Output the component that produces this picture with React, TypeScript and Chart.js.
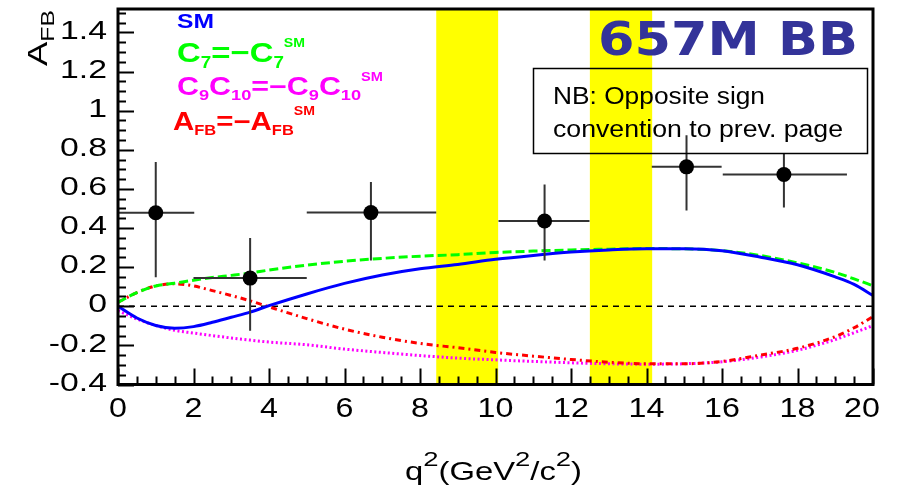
import React, { useEffect, useRef } from "react";
import { Chart, registerables } from "chart.js";

Chart.register(...registerables);

// q^2 sampling of the theory curves (GeV^2/c^2)
const Q2 = [0, 0.5, 1, 1.5, 2, 2.5, 3, 3.5, 4, 5, 6, 7, 8, 9, 10, 11, 12, 13, 14, 15, 16, 17, 18, 19, 19.5, 20];

// Theory predictions of A_FB
const SM = [0, -0.06, -0.098, -0.112, -0.104, -0.082, -0.056, -0.03, 0.003, 0.063, 0.117, 0.16, 0.192, 0.214, 0.24, 0.26, 0.277, 0.288, 0.294, 0.294, 0.284, 0.252, 0.212, 0.15, 0.112, 0.055];
const C7_FLIP = [0.02, 0.07, 0.104, 0.118, 0.133, 0.147, 0.158, 0.17, 0.185, 0.21, 0.23, 0.245, 0.256, 0.264, 0.275, 0.282, 0.288, 0.292, 0.295, 0.294, 0.284, 0.26, 0.222, 0.173, 0.14, 0.105];
const C9C10_FLIP = [-0.022, -0.065, -0.098, -0.123, -0.137, -0.15, -0.162, -0.173, -0.183, -0.197, -0.219, -0.236, -0.252, -0.265, -0.274, -0.282, -0.289, -0.294, -0.296, -0.294, -0.284, -0.26, -0.225, -0.17, -0.135, -0.099];
const AFB_FLIP = [0.02, 0.07, 0.104, 0.115, 0.104, 0.08, 0.055, 0.028, -0.003, -0.063, -0.117, -0.158, -0.19, -0.212, -0.236, -0.255, -0.272, -0.286, -0.294, -0.294, -0.282, -0.25, -0.215, -0.155, -0.11, -0.053];

// Measured A_FB per q^2 bin
const BIN_CENTER = [1.0, 3.5, 6.7, 11.3, 15.06, 17.64];
const AFB_MEAS = [0.478, 0.144, 0.479, 0.436, 0.713, 0.674];
const BIN_LO = [0.0, 2.0, 5.0, 10.08, 14.14, 16.02];
const BIN_HI = [2.02, 5.0, 8.43, 12.49, 15.99, 19.31];
const ERR_LO = [0.149, -0.125, 0.234, 0.234, 0.49, 0.505];
const ERR_HI = [0.738, 0.349, 0.636, 0.622, 0.875, 0.78];

// Charmonium veto windows
const VETO_LO = [8.43, 12.5];
const VETO_HI = [10.07, 14.15];

// Axis ticks
const X_MAJOR = [0, 2, 4, 6, 8, 10, 12, 14, 16, 18, 20];
const Y_MAJOR = [-0.4, -0.2, 0, 0.2, 0.4, 0.6, 0.8, 1, 1.2, 1.4];
const Y_LABELS = ["-0.4", "-0.2", "0", "0.2", "0.4", "0.6", "0.8", "1", "1.2", "1.4"];

const SANS = '"Liberation Sans", Arial, sans-serif';

type Seg = { t: string; size: number; dy?: number; bold?: boolean };

function drawStretched(ctx: CanvasRenderingContext2D, text: string, x: number, y: number, font: string, sx: number, align: "left" | "right" | "center", color: string) {
  ctx.save();
  ctx.font = font;
  ctx.fillStyle = color;
  ctx.textAlign = "left";
  const w = ctx.measureText(text).width * sx;
  const left = align === "right" ? x - w : align === "center" ? x - w / 2 : x;
  ctx.translate(left, y);
  ctx.scale(sx, 1);
  ctx.fillText(text, 0, 0);
  ctx.restore();
}

// Draws a run of text pieces (sub/superscripts) scaled to a given width
function drawRich(ctx: CanvasRenderingContext2D, segs: Seg[], x: number, baseline: number, width: number, color: string, family = SANS) {
  ctx.save();
  ctx.textBaseline = "alphabetic";
  ctx.textAlign = "left";
  let natural = 0;
  for (const s of segs) {
    ctx.font = `${s.bold ? "bold " : ""}${s.size}px ${family}`;
    natural += ctx.measureText(s.t).width;
  }
  const sx = width / natural;
  ctx.translate(x, baseline);
  ctx.scale(sx, 1);
  ctx.fillStyle = color;
  let cx = 0;
  for (const s of segs) {
    ctx.font = `${s.bold ? "bold " : ""}${s.size}px ${family}`;
    ctx.fillText(s.t, cx, s.dy || 0);
    cx += ctx.measureText(s.t).width;
  }
  ctx.restore();
}

const bandsPlugin = {
  id: "vetoBands",
  beforeDatasetsDraw(chart: any) {
    const { ctx, chartArea: a, scales } = chart;
    const xs = scales.x;
    const ys = scales.y;
    ctx.save();
    ctx.fillStyle = "#ffff00";
    for (let i = 0; i < VETO_LO.length; i++) {
      const l = xs.getPixelForValue(VETO_LO[i]);
      const r = xs.getPixelForValue(VETO_HI[i]);
      ctx.fillRect(l, a.top, r - l, a.bottom - a.top);
    }
    const y0 = ys.getPixelForValue(0);
    ctx.strokeStyle = "#000";
    ctx.lineWidth = 1.5;
    ctx.setLineDash([6, 5]);
    ctx.beginPath();
    ctx.moveTo(xs.getPixelForValue(0), y0);
    ctx.lineTo(xs.getPixelForValue(20), y0);
    ctx.stroke();
    ctx.restore();
  },
};

const errorBarPlugin = {
  id: "errorBars",
  beforeDatasetDraw(chart: any, args: any) {
    if (args.index !== 4) return;
    const { ctx, scales } = chart;
    const xs = scales.x;
    const ys = scales.y;
    ctx.save();
    ctx.strokeStyle = "#333";
    ctx.lineWidth = 2;
    for (let i = 0; i < BIN_CENTER.length; i++) {
      const cx = xs.getPixelForValue(BIN_CENTER[i]);
      const cy = ys.getPixelForValue(AFB_MEAS[i]);
      ctx.beginPath();
      ctx.moveTo(xs.getPixelForValue(BIN_LO[i]), cy);
      ctx.lineTo(xs.getPixelForValue(BIN_HI[i]), cy);
      ctx.moveTo(cx, ys.getPixelForValue(ERR_LO[i]));
      ctx.lineTo(cx, ys.getPixelForValue(ERR_HI[i]));
      ctx.stroke();
    }
    ctx.restore();
  },
};

const framePlugin = {
  id: "rootFrame",
  afterDraw(chart: any) {
    const { ctx, chartArea: a, scales } = chart;
    const xs = scales.x;
    const ys = scales.y;
    ctx.save();

    // ticks
    ctx.strokeStyle = "#000";
    ctx.lineWidth = 2;
    ctx.beginPath();
    for (let v = -0.4; v <= 1.5001; v += 0.05) {
      const major = Math.abs(v * 5 - Math.round(v * 5)) < 1e-6;
      const py = Math.round(ys.getPixelForValue(v)) + 0.5;
      ctx.moveTo(a.left, py);
      ctx.lineTo(a.left + (major ? 16 : 8), py);
    }
    for (let v = 0; v <= 20.001; v += 0.5) {
      const major = Math.abs(v / 2 - Math.round(v / 2)) < 1e-6;
      const px = Math.round(xs.getPixelForValue(v)) + 0.5;
      ctx.moveTo(px, a.bottom);
      ctx.lineTo(px, a.bottom - (major ? 16 : 8));
    }
    ctx.stroke();

    // frame
    ctx.lineWidth = 3;
    ctx.strokeRect(a.left, a.top, a.right - a.left, a.bottom - a.top);

    // tick labels
    ctx.textBaseline = "middle";
    Y_MAJOR.forEach((v, i) => {
      drawStretched(ctx, Y_LABELS[i], 107, ys.getPixelForValue(v) - 1, `26px ${SANS}`, 1.3, "right", "#000");
    });
    X_MAJOR.forEach((v, i) => {
      const shift = i === X_MAJOR.length - 1 ? -11 : 0;
      drawStretched(ctx, String(v), xs.getPixelForValue(v) + shift, 409, `28px ${SANS}`, 1.15, "center", "#000");
    });

    // axis titles
    drawRich(ctx, [
      { t: "q", size: 25 },
      { t: "2", size: 21, dy: -14 },
      { t: "(GeV", size: 25 },
      { t: "2", size: 21, dy: -14 },
      { t: "/c", size: 25 },
      { t: "2", size: 21, dy: -14 },
      { t: ")", size: 25 },
    ], 405, 480, 177, "#000");

    ctx.save();
    ctx.translate(47, 66);
    ctx.rotate(-Math.PI / 2);
    drawRich(ctx, [
      { t: "A", size: 28 },
      { t: "FB", size: 19, dy: 7 },
    ], 0, 0, 56, "#000");
    ctx.restore();

    // legend
    drawRich(ctx, [{ t: "SM", size: 21, bold: true }], 177, 28, 37, "#0000ff");
    drawRich(ctx, [
      { t: "C", size: 28, bold: true },
      { t: "7", size: 16, bold: true, dy: 6 },
      { t: "=", size: 28, bold: true },
      { t: "\u2212", size: 28, bold: true },
      { t: "C", size: 28, bold: true },
      { t: "7", size: 16, bold: true, dy: 6 },
      { t: "SM", size: 12, bold: true, dy: -15 },
    ], 177, 62, 128, "#00ff00");
    drawRich(ctx, [
      { t: "C", size: 25, bold: true },
      { t: "9", size: 15, bold: true, dy: 5 },
      { t: "C", size: 25, bold: true },
      { t: "10", size: 15, bold: true, dy: 5 },
      { t: "=", size: 25, bold: true },
      { t: "\u2212", size: 25, bold: true },
      { t: "C", size: 25, bold: true },
      { t: "9", size: 15, bold: true, dy: 5 },
      { t: "C", size: 25, bold: true },
      { t: "10", size: 15, bold: true, dy: 5 },
      { t: "SM", size: 12, bold: true, dy: -14 },
    ], 177, 95, 206, "#ff00ff");
    drawRich(ctx, [
      { t: "A", size: 25, bold: true },
      { t: "FB", size: 14, bold: true, dy: 5 },
      { t: "=", size: 25, bold: true },
      { t: "\u2212", size: 25, bold: true },
      { t: "A", size: 25, bold: true },
      { t: "FB", size: 14, bold: true, dy: 5 },
      { t: "SM", size: 12, bold: true, dy: -15 },
    ], 173, 130, 142, "#ff0000");

    // note box
    ctx.lineWidth = 1.5;
    ctx.strokeStyle = "#000";
    ctx.strokeRect(533.5, 68.5, 334, 85);
    drawRich(ctx, [{ t: "NB: Opposite sign", size: 23.5 }], 553, 104, 212, "#000");
    drawRich(ctx, [{ t: "convention to prev. page", size: 23.5 }], 553, 137, 290, "#000");

    // luminosity tag
    drawRich(ctx, [{ t: "657M BB", size: 46, bold: true }], 598, 55, 260, "#333399", '"DejaVu Sans", sans-serif');

    ctx.restore();
  },
};

export default function App() {
  const ref = useRef<HTMLCanvasElement | null>(null);

  useEffect(() => {
    if (!ref.current) return;
    const line = (data: number[], color: string, dash: number[], order: number) => ({
      type: "line" as const,
      data: Q2.map((x, i) => ({ x, y: data[i] })),
      borderColor: color,
      borderWidth: 3,
      borderDash: dash,
      pointRadius: 0,
      fill: false,
      cubicInterpolationMode: "monotone" as const,
      order,
    });
    const chart = new Chart(ref.current, {
      type: "line",
      data: {
        datasets: [
          line(SM, "#0000ff", [], 1),
          line(C7_FLIP, "#00ff00", [9, 4], 2),
          line(AFB_FLIP, "#ff0000", [6, 4, 2, 4], 3),
          line(C9C10_FLIP, "#ff00ff", [2, 2.5], 4),
          {
            type: "scatter" as const,
            data: BIN_CENTER.map((x, i) => ({ x, y: AFB_MEAS[i] })),
            pointRadius: 7.5,
            pointBackgroundColor: "#000",
            pointBorderWidth: 0,
            order: 0,
          } as any,
        ],
      },
      options: {
        responsive: false,
        animation: false,
        layout: { padding: { left: 118, right: 33, top: 9, bottom: 105.5 } },
        plugins: { legend: { display: false }, tooltip: { enabled: false } },
        scales: {
          x: { type: "linear", min: 0, max: 20, display: false },
          y: { type: "linear", min: -0.4, max: 1.52, display: false },
        },
      },
      plugins: [bandsPlugin, errorBarPlugin, framePlugin],
    });
    return () => chart.destroy();
  }, []);

  return (
    <div style={{ position: "fixed", left: 0, top: 0, width: 906, height: 490, background: "#fff" }}>
      <canvas ref={ref} width={906} height={490} style={{ width: 906, height: 490 }} />
    </div>
  );
}
